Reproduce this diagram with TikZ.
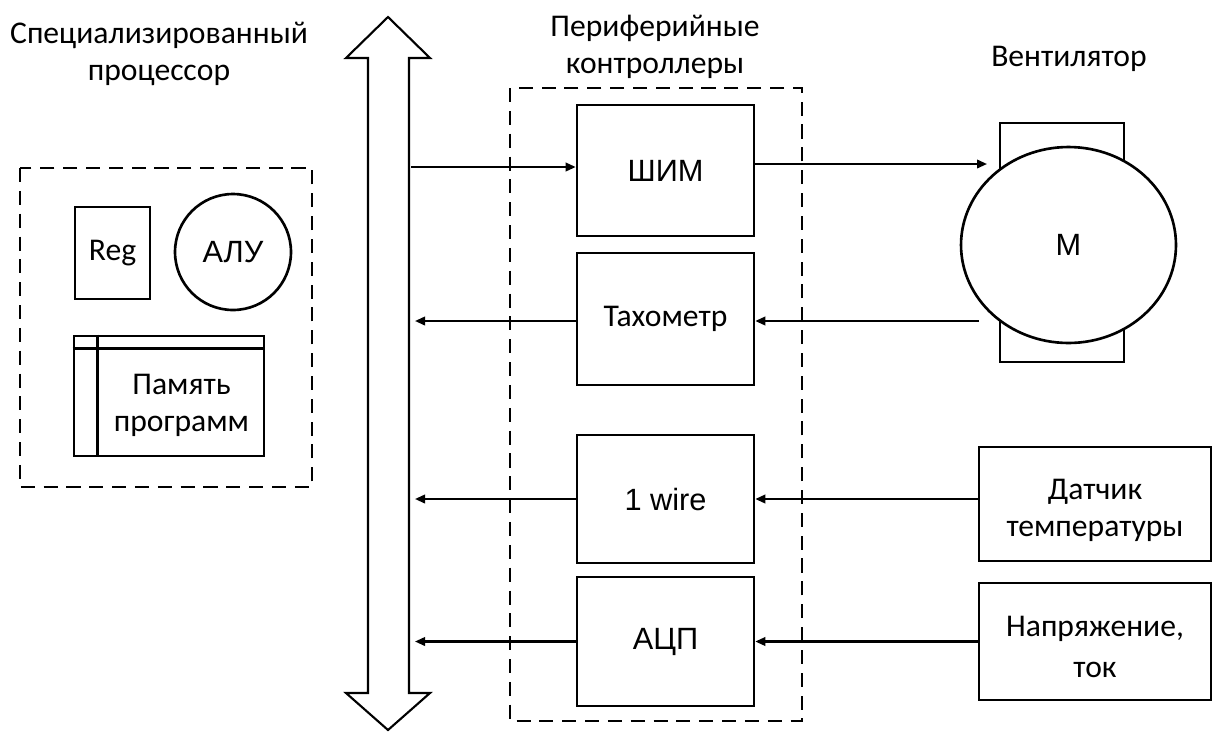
\documentclass[tikz,border=0pt]{standalone}
\usepackage{fontspec}
\setmainfont{Carlito}
\newfontfamily\arialfont{Liberation Sans}
\usetikzlibrary{arrows.meta,shapes,positioning,calc}

\tikzset{
  block/.style={draw, line width=1.5pt, inner sep=0pt, align=center},
  group/.style={draw, line width=1.5pt, dash pattern=on 8pt off 5pt},
  link/.style={line width=1.2pt, -{Triangle[length=0.2cm,width=0.17cm]}},
  label/.style={align=center},
  sans/.style={font=\arialfont\fontsize{17.5}{21}\selectfont}
}

\begin{document}
\begin{tikzpicture}[x=0.02cm, y=-0.02cm, font=\fontsize{18}{21}\selectfont]
  \useasboundingbox (0,0) rectangle (1213,731);

  % processor
  \node[label] (cputitle) at (159,54) {Специализированный\\процессор};
  \draw[group] (20,168) rectangle (312,487);
  \node[block, minimum width=1.5cm, minimum height=1.84cm] (reg) at (112.5,253) {Reg};
  \node[block, circle, minimum size=2.32cm, sans] (alu) at (233,252) {АЛУ};
  \node[block, minimum width=3.8cm, minimum height=2.4cm] (mem) at (169,396) {};
  \draw[line width=1.5pt] ([yshift=-0.28cm]mem.north west) -- ([yshift=-0.28cm]mem.north east);
  \draw[line width=1.5pt] ([xshift=0.5cm]mem.north west) -- ([xshift=0.5cm]mem.south west);
  \node[label] (memtext) at (181.5,405) {Память\\программ};

  % system bus
  \draw[line width=1.2pt, line join=miter]
    (368,58) -- (346,58) -- (388,17) -- (430,58) -- (409,58) --
    (409,693) -- (430,693) -- (388,730) -- (346,693) -- (368,693) -- cycle;

  % peripheral controllers
  \node[label] (periphtitle) at (655,47) {Периферийные\\контроллеры};
  \draw[group] (510,88) rectangle (802,721);
  \node[block, minimum width=3.54cm, minimum height=2.62cm, sans] (pwm) at (665.5,170.5) {ШИМ};
  \node[block, minimum width=3.54cm, minimum height=2.64cm] (tach) at (665.5,319) {Тахометр};
  \node[block, minimum width=3.54cm, minimum height=2.56cm, sans] (wire) at (665.5,499) {1 wire};
  \node[block, minimum width=3.54cm, minimum height=2.58cm, sans] (adc) at (665.5,641.5) {АЦП};

  % fan
  \node[label] (fantitle) at (1069,59) {Вентилятор};
  \node[block, minimum width=2.48cm, minimum height=4.78cm] (fan) at (1062,242.5) {};
  \node[block, ellipse, fill=white, minimum width=4.3cm, minimum height=3.92cm, sans] (motor) at (1068.5,245) {М};

  % sensors
  \node[block, minimum width=4.64cm, minimum height=2.28cm] (temp) at (1095,504) {};
  \node[label] (temptext) at (1095,510) {Датчик\\температуры};
  \node[block, minimum width=4.64cm, minimum height=2.34cm] (volt) at (1095,641.5) {};
  \node[label, align=center] (volttext) at (1095,647) {Напряжение,\\[2pt]ток};

  % connection points
  \coordinate (buspwm) at (411,167);
  \coordinate (motorin) at (987,164);
  \coordinate (motorout) at (979,321);
  \coordinate (bustach) at (409,321);

  \draw[link] (buspwm) -- (pwm.west |- buspwm);
  \draw[link] (pwm.east |- motorin) -- (motorin);
  \draw[link] (motorout) -- (tach.east |- motorout);
  \draw[link] (tach.west |- bustach) -- ([xshift=0.12cm]bustach);
  \draw[link] (temp.west |- wire.east) -- (wire.east);
  \draw[link] (wire.west) -- ([xshift=0.12cm]bustach |- wire.west);
  \draw[link] (volt.west |- adc.east) -- (adc.east);
  \draw[link] (adc.west) -- ([xshift=0.12cm]bustach |- adc.west);
\end{tikzpicture}
\end{document}
